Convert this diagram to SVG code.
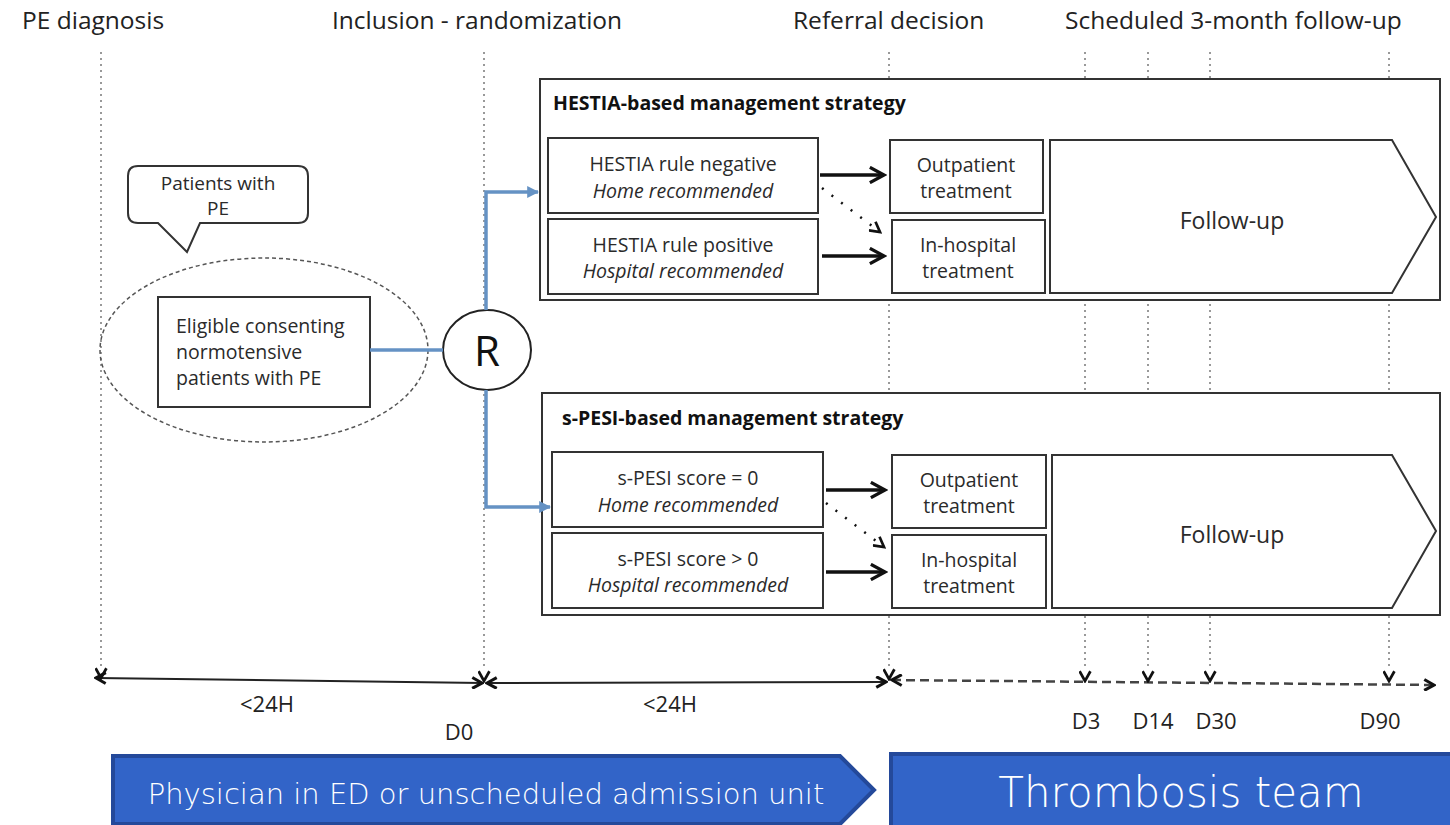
<svg xmlns="http://www.w3.org/2000/svg" width="1450" height="825" viewBox="0 0 1450 825">
<defs>
<style>
.lbl{font-family:"Open Sans","Liberation Sans",sans-serif;font-size:24.5px;fill:#222}
.t{font-family:"Open Sans","Liberation Sans",sans-serif;font-size:19.5px;fill:#2a2a2a;text-anchor:middle}
.ti{font-style:italic}
.ttl{font-family:"Open Sans","Liberation Sans",sans-serif;font-size:19.5px;font-weight:bold;fill:#111}
.box{fill:#fff;stroke:#333;stroke-width:2}
.vd{stroke:#999;stroke-width:2;stroke-dasharray:2 4;fill:none}
.blue{stroke:#6592c4;stroke-width:3.5;fill:none}
.tl{stroke:#222;stroke-width:2;fill:none}
.tick{font-family:"Open Sans","Liberation Sans",sans-serif;font-size:22px;fill:#222;text-anchor:middle}
.band{fill:#3264c8;stroke:#24499a;stroke-width:4}
.bt{font-family:"DejaVu Sans","Liberation Sans",sans-serif;font-weight:200;fill:#fff;text-anchor:middle}
</style>
<marker id="chev" viewBox="0 0 12 12" refX="10" refY="6" markerWidth="13" markerHeight="13" markerUnits="userSpaceOnUse" orient="auto-start-reverse">
<path d="M1,1 L10,6 L1,11" fill="none" stroke="#111" stroke-width="2.8"/>
</marker>
<marker id="vdown" viewBox="0 0 12 12" refX="10" refY="6" markerWidth="13" markerHeight="13" markerUnits="userSpaceOnUse" orient="auto">
<path d="M1,1 L10,6 L1,11" fill="none" stroke="#111" stroke-width="2.5"/>
</marker>
<marker id="bk" viewBox="0 0 14 14" refX="12" refY="7" markerWidth="18" markerHeight="18" markerUnits="userSpaceOnUse" orient="auto">
<path d="M1,1 L12,7 L1,13" fill="none" stroke="#111" stroke-width="2.5"/>
</marker>
<marker id="bl" viewBox="0 0 10 10" refX="9" refY="5" markerWidth="12" markerHeight="12" markerUnits="userSpaceOnUse" orient="auto">
<path d="M0,0 L10,5 L0,10 Z" fill="#6592c4"/>
</marker>
</defs>
<rect width="1450" height="825" fill="#fff"/>

<g id="phase-labels">
<text class="lbl" x="22" y="29">PE diagnosis</text>
<text class="lbl" x="332" y="29">Inclusion - randomization</text>
<text class="lbl" x="793" y="29">Referral decision</text>
<text class="lbl" x="1065" y="29">Scheduled 3-month follow-up</text>
</g>

<g id="time-guides">
<line class="vd" x1="101" y1="52" x2="101" y2="668"/>
<line class="vd" x1="484" y1="52" x2="484" y2="670"/>
<line class="vd" x1="889" y1="52" x2="889" y2="668"/>
<line class="vd" x1="1085" y1="52" x2="1085" y2="670"/>
<line class="vd" x1="1148" y1="52" x2="1148" y2="670"/>
<line class="vd" x1="1210" y1="52" x2="1210" y2="670"/>
<line class="vd" x1="1389" y1="52" x2="1389" y2="670"/>
</g>

<g id="callout">
<path class="box" d="M138,166 H298 Q308,166 308,176 V213 Q308,223 298,223 H200 L187,252 L158,223 H138 Q128,223 128,213 V176 Q128,166 138,166 Z"/>
<text class="t" x="218" y="190" style="font-size:19px">Patients with</text>
<text class="t" x="218" y="215" style="font-size:19px">PE</text>
</g>

<g id="population">
<ellipse cx="264" cy="350" rx="164" ry="92" fill="none" stroke="#555" stroke-width="1.5" stroke-dasharray="4 3"/>
<rect class="box" x="158" y="297" width="212" height="110"/>
<text class="t" x="176" y="333" style="text-anchor:start">Eligible consenting</text>
<text class="t" x="176" y="359" style="text-anchor:start">normotensive</text>
<text class="t" x="176" y="385" style="text-anchor:start">patients with PE</text>
</g>

<g id="randomization">
<ellipse cx="487" cy="350" rx="44" ry="40" fill="#fff" stroke="#222" stroke-width="2"/>
<text x="487" y="366" font-family="Open Sans,Liberation Sans,sans-serif" font-size="42" fill="#111" text-anchor="middle">R</text>
</g>

<g id="hestia">
<rect class="box" x="540" y="79" width="900" height="221"/>
<text class="ttl" x="553" y="110">HESTIA-based management strategy</text>
<rect class="box" x="548" y="138" width="270" height="75"/>
<text class="t" x="683" y="171">HESTIA rule negative</text>
<text class="t ti" x="683" y="198">Home recommended</text>
<rect class="box" x="548" y="219" width="270" height="75"/>
<text class="t" x="683" y="252">HESTIA rule positive</text>
<text class="t ti" x="683" y="278">Hospital recommended</text>
<rect class="box" x="890" y="140" width="153" height="73"/>
<text class="t" x="966" y="172">Outpatient</text>
<text class="t" x="966" y="198">treatment</text>
<rect class="box" x="892" y="220" width="153" height="73"/>
<text class="t" x="968" y="252">In-hospital</text>
<text class="t" x="968" y="278">treatment</text>
<path class="box" d="M1050,140 H1392 L1436,217 L1392,293 H1050 Z"/>
<text class="t" x="1232" y="229" style="font-size:23px">Follow-up</text>
</g>

<g id="spesi">
<rect class="box" x="542" y="393" width="898" height="222"/>
<text class="ttl" x="562" y="425">s-PESI-based management strategy</text>
<rect class="box" x="552" y="452" width="271" height="75"/>
<text class="t" x="688" y="485">s-PESI score = 0</text>
<text class="t ti" x="688" y="512">Home recommended</text>
<rect class="box" x="552" y="533" width="271" height="75"/>
<text class="t" x="688" y="566">s-PESI score &gt; 0</text>
<text class="t ti" x="688" y="592">Hospital recommended</text>
<rect class="box" x="892" y="455" width="154" height="73"/>
<text class="t" x="969" y="487">Outpatient</text>
<text class="t" x="969" y="513">treatment</text>
<rect class="box" x="892" y="535" width="154" height="73"/>
<text class="t" x="969" y="567">In-hospital</text>
<text class="t" x="969" y="593">treatment</text>
<path class="box" d="M1052,455 H1392 L1436,531 L1392,608 H1052 Z"/>
<text class="t" x="1232" y="543" style="font-size:23px">Follow-up</text>
</g>

<g id="connectors">
<line class="blue" x1="370" y1="350" x2="443" y2="350"/>
<polyline class="blue" points="486,310 486,192 538,192" marker-end="url(#bl)"/>
<polyline class="blue" points="486,390 486,507 550,507" marker-end="url(#bl)"/>
<line x1="820" y1="175" x2="884" y2="175" stroke="#111" stroke-width="3.5" marker-end="url(#bk)"/>
<line x1="822" y1="256" x2="884" y2="256" stroke="#111" stroke-width="3.5" marker-end="url(#bk)"/>
<line x1="822" y1="188" x2="880" y2="232" stroke="#111" stroke-width="2.5" stroke-dasharray="2 10" marker-end="url(#vdown)"/>
<line x1="826" y1="490" x2="885" y2="490" stroke="#111" stroke-width="3.5" marker-end="url(#bk)"/>
<line x1="826" y1="572" x2="885" y2="572" stroke="#111" stroke-width="3.5" marker-end="url(#bk)"/>
<line x1="826" y1="503" x2="884" y2="547" stroke="#111" stroke-width="2.5" stroke-dasharray="2 10" marker-end="url(#vdown)"/>
</g>

<g id="timeline">
<line class="tl" x1="96" y1="678" x2="482" y2="683" marker-start="url(#chev)" marker-end="url(#chev)"/>
<line class="tl" x1="487" y1="683" x2="886" y2="682" marker-start="url(#chev)" marker-end="url(#chev)"/>
<line x1="892" y1="680" x2="1434" y2="685" stroke="#444" stroke-width="2.5" stroke-dasharray="9 5" marker-start="url(#chev)" marker-end="url(#chev)"/>
<line x1="101" y1="664" x2="101" y2="678" stroke="none" marker-end="url(#vdown)"/>
<line x1="484" y1="667" x2="484" y2="681" stroke="none" marker-end="url(#vdown)"/>
<line x1="889" y1="665" x2="889" y2="679" stroke="none" marker-end="url(#vdown)"/>
<line x1="1085" y1="667" x2="1085" y2="681" stroke="none" marker-end="url(#vdown)"/>
<line x1="1148" y1="667" x2="1148" y2="681" stroke="none" marker-end="url(#vdown)"/>
<line x1="1210" y1="667" x2="1210" y2="681" stroke="none" marker-end="url(#vdown)"/>
<line x1="1389" y1="667" x2="1389" y2="681" stroke="none" marker-end="url(#vdown)"/>
<text class="tick" x="267" y="712">&lt;24H</text>
<text class="tick" x="459" y="740">D0</text>
<text class="tick" x="670" y="712">&lt;24H</text>
<text class="tick" x="1086" y="729">D3</text>
<text class="tick" x="1153" y="729">D14</text>
<text class="tick" x="1216" y="729">D30</text>
<text class="tick" x="1380" y="729">D90</text>
</g>

<g id="physician-band">
<path class="band" d="M113,756 H840 L874,790 L840,824 H113 Z"/>
<text class="bt" x="486" y="804" font-size="29">Physician in ED or unscheduled admission unit</text>
</g>
<g id="thrombosis-band">
<rect class="band" x="891" y="754" width="562" height="74"/>
<text class="bt" x="1181" y="807" font-size="42">Thrombosis team</text>
</g>
</svg>
